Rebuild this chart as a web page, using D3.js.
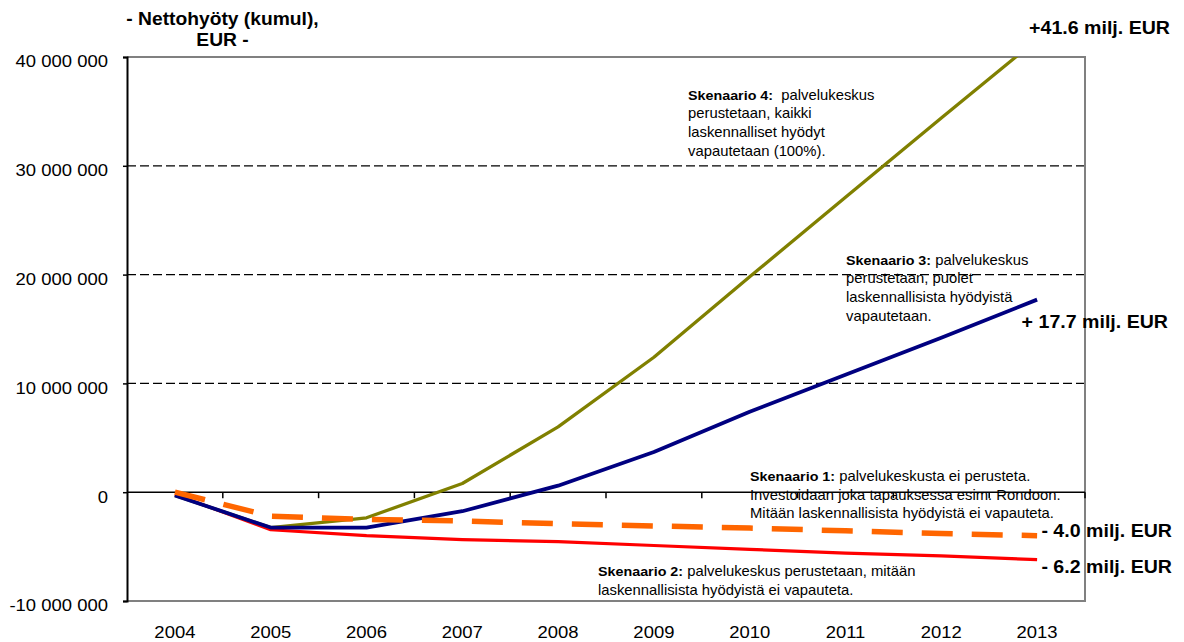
<!DOCTYPE html>
<html>
<head>
<meta charset="utf-8">
<script src="https://cdn.jsdelivr.net/npm/d3@7/dist/d3.min.js"></script>
<style>
  html, body { margin: 0; padding: 0; background: #fff; }
  svg { display: block; font-family: "Liberation Sans", Arial, sans-serif; }
</style>
</head>
<body>
<svg id="chart" width="1184" height="642"></svg>
<script>
// Years on the category axis
const years = ["2004","2005","2006","2007","2008","2009","2010","2011","2012","2013"];

// Cumulative net benefit per scenario, million EUR
const scenario1 = [0, -2.2, -2.5, -2.65, -2.9, -3.1, -3.3, -3.55, -3.8, -4.0];
const scenario2 = [-0.2, -3.45, -4.0, -4.35, -4.55, -4.9, -5.25, -5.6, -5.85, -6.2];
const scenario3 = [-0.3, -3.25, -3.25, -1.75, 0.6, 3.7, 7.4, 10.8, 14.2, 17.7];
const scenario4 = [-0.3, -3.25, -2.35, 0.8, 6.0, 12.4, 19.8, 27.1, 34.4, 41.6];

// Y axis ticks (EUR)
const yTicks = [-10000000, 0, 10000000, 20000000, 30000000, 40000000];

(function () {
  const svg = d3.select("#chart");
  const m = { left: 127, right: 1085, top: 57, bottom: 601 };
  const SX = 1.12; // wide text setting

  const x = d3.scaleBand().domain(years).range([m.left, m.right]);
  const xc = d => x(d) + x.bandwidth() / 2;
  const y = d3.scaleLinear().domain([-10000000, 40000000]).range([m.bottom, m.top]);

  // Space-grouped thousands with a plain hyphen for negatives
  const fmt = v => d3.format(",")(v).replace(/,/g, " ").replace("\u2212", "-");

  // Text placed at (px, py) and widened horizontally around its anchor
  function wideText(parent, px, py, sx) {
    return parent.append("text")
      .attr("transform", `translate(${px},${py}) scale(${sx},1)`)
      .attr("fill", "#000");
  }

  // Dashed gridlines
  svg.append("g").selectAll("line")
    .data(yTicks.filter(v => v > 0 && v < 40000000))
    .join("line")
    .attr("x1", m.left).attr("x2", m.right)
    .attr("y1", d => y(d)).attr("y2", d => y(d))
    .attr("stroke", "#000").attr("stroke-width", 1.2)
    .attr("stroke-dasharray", "9,4");

  // Plot frame (top, right, bottom)
  svg.append("path")
    .attr("d", `M${m.left},${m.top}H${m.right}V${m.bottom}H${m.left}`)
    .attr("fill", "none").attr("stroke", "#808080").attr("stroke-width", 2);

  // Y axis
  const yAxis = d3.axisLeft(y).tickValues(yTicks).tickSize(4).tickPadding(15).tickFormat(fmt);
  const gy = svg.append("g").attr("transform", `translate(${m.left},0)`).call(yAxis);
  gy.select(".domain").attr("stroke", "#000").attr("stroke-width", 2);
  gy.selectAll(".tick line").attr("stroke", "#000").attr("stroke-width", 1.5);
  gy.selectAll(".tick text")
    .attr("font-size", 16.5).attr("fill", "#000")
    .attr("font-family", "Liberation Sans, Arial, sans-serif")
    .attr("x", -19 / SX).attr("dy", "0.6em")
    .attr("transform", `scale(${SX},1)`);

  // Zero line with category boundary ticks
  svg.append("line")
    .attr("x1", m.left).attr("x2", m.right)
    .attr("y1", y(0)).attr("y2", y(0))
    .attr("stroke", "#000").attr("stroke-width", 1.5);
  svg.append("g").selectAll("line")
    .data(years)
    .join("line")
    .attr("x1", d => x(d) + x.bandwidth())
    .attr("x2", d => x(d) + x.bandwidth())
    .attr("y1", y(0)).attr("y2", y(0) + 6)
    .attr("stroke", "#000").attr("stroke-width", 1.5);

  // Year labels below the plot
  const gYears = svg.append("g");
  years.forEach(d => {
    wideText(gYears, xc(d), 638, SX)
      .attr("text-anchor", "middle").attr("font-size", 16.5)
      .text(d);
  });

  // Clip the series to the plot area
  svg.append("clipPath").attr("id", "plot-clip")
    .append("rect").attr("x", m.left).attr("y", m.top)
    .attr("width", m.right - m.left).attr("height", m.bottom - m.top);

  const line = d3.line()
    .x((d, i) => xc(years[i]))
    .y(d => y(d * 1e6));

  const series = [
    { values: scenario2, color: "#FF0000", width: 3.2, dash: null },
    { values: scenario4, color: "#808000", width: 3.3, dash: null },
    { values: scenario3, color: "#000080", width: 3.8, dash: null },
    { values: scenario1, color: "#FF6600", width: 5.5, dash: "31,19" }
  ];

  const gLines = svg.append("g").attr("clip-path", "url(#plot-clip)");
  series.forEach(s => {
    gLines.append("path")
      .datum(s.values)
      .attr("d", line)
      .attr("fill", "none")
      .attr("stroke", s.color)
      .attr("stroke-width", s.width)
      .attr("stroke-linejoin", "round")
      .attr("stroke-dasharray", s.dash);
  });

  // Axis title
  const title = wideText(svg, 222.5, 25, 1.1)
    .attr("font-size", 17.5).attr("font-weight", "bold").attr("text-anchor", "middle");
  title.append("tspan").attr("x", 0).attr("y", 0).text("- Nettohyöty (kumul),");
  title.append("tspan").attr("x", 0).attr("y", 21).text("EUR -");

  // End value labels
  const endLabels = [
    { text: "+41.6 milj. EUR", x: 1170, y: 33.5 },
    { text: "+ 17.7 milj. EUR", x: 1168, y: 328 },
    { text: "- 4.0 milj. EUR", x: 1172, y: 536.5 },
    { text: "- 6.2 milj. EUR", x: 1172, y: 573 }
  ];
  endLabels.forEach(d => {
    wideText(svg, d.x, d.y, SX)
      .attr("text-anchor", "end").attr("font-size", 17.5).attr("font-weight", "bold")
      .text(d.text);
  });

  // Scenario descriptions
  const notes = [
    { x: 688, y: 99.5, lines: [["Skenaario 4:", "  palvelukeskus"], "perustetaan, kaikki", "laskennalliset hyödyt", "vapautetaan (100%)."] },
    { x: 846, y: 264.5, lines: [["Skenaario 3:", " palvelukeskus"], "perustetaan, puolet", "laskennallisista hyödyistä", "vapautetaan."] },
    { x: 750, y: 481, lines: [["Skenaario 1:", " palvelukeskusta ei perusteta."], "Investoidaan joka tapauksessa esim. Rondoon.", "Mitään laskennallisista hyödyistä ei vapauteta."] },
    { x: 598, y: 576, lines: [["Skenaario 2:", " palvelukeskus perustetaan, mitään"], "laskennallisista hyödyistä ei vapauteta."] }
  ];
  notes.forEach(n => {
    const t = wideText(svg, n.x, n.y, 1.06).attr("font-size", 14);
    n.lines.forEach((ln, i) => {
      const row = t.append("tspan").attr("x", 0).attr("y", i * 18.7);
      if (Array.isArray(ln)) {
        row.append("tspan").attr("font-weight", "bold").attr("font-size", 13.5).text(ln[0]);
        row.append("tspan").attr("xml:space", "preserve").text(ln[1]);
      } else {
        row.text(ln);
      }
    });
  });
})();
</script>
</body>
</html>
